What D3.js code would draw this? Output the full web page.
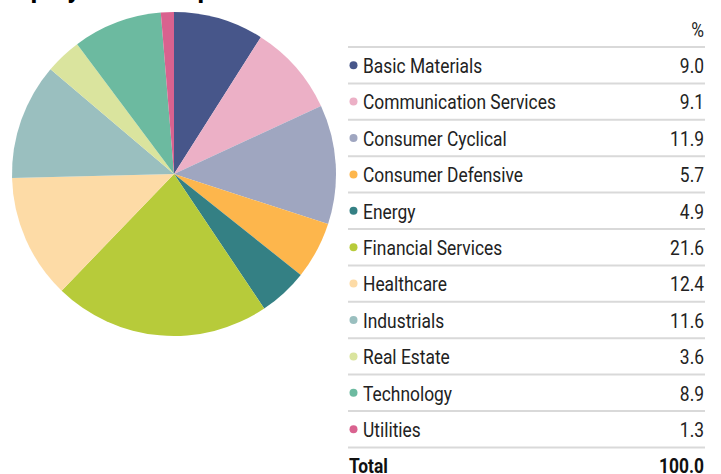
<!DOCTYPE html>
<html>
<head>
<meta charset="utf-8">
<script src="https://cdn.jsdelivr.net/npm/d3@7"></script>
<style>
  html, body { margin: 0; padding: 0; background: #fff; }
  svg { display: block; }
  text { font-family: "Roboto", "Liberation Sans", sans-serif; }
</style>
</head>
<body>
<svg id="chart" width="721" height="474"></svg>
<script>
// Sector breakdown (% of equity holdings)
const sectors = [
  "Basic Materials", "Communication Services", "Consumer Cyclical",
  "Consumer Defensive", "Energy", "Financial Services", "Healthcare",
  "Industrials", "Real Estate", "Technology", "Utilities"
];
const weights = [9.0, 9.1, 11.9, 5.7, 4.9, 21.6, 12.4, 11.6, 3.6, 8.9, 1.3];
const colors = [
  "#47568a", "#ecb0c6", "#9fa6c0", "#fdb64c", "#348084", "#b7cb3a",
  "#fddba6", "#9abfbf", "#dae49e", "#6cbaa0", "#d9628f"
];
const totalLabel = "Total";
const totalValue = "100.0";
const title = "Equity Sector Exposure";

const svg = d3.select("#chart");
const fs = 21;

// Condensed look: measure a reference label and squeeze text horizontally
const probe = svg.append("text").attr("font-size", fs).text("Communication Services");
const squeeze = Math.min(1, 193 / probe.node().getComputedTextLength());
probe.remove();

function label(parent, x, y, str, opts = {}) {
  return parent.append("text")
    .attr("transform", `translate(${x},${y}) scale(${opts.sx || squeeze},1)`)
    .attr("text-anchor", opts.anchor || "start")
    .attr("font-size", opts.size || fs)
    .attr("font-weight", opts.weight || "normal")
    .attr("fill", opts.fill || "#222")
    .text(str);
}

// Title (sits partly above the visible area)
label(svg, 8, -2.5, title, { size: 26, weight: "bold", fill: "#000", sx: 1 });

// Pie
const cx = 174, cy = 174, radius = 162;
const pie = d3.pie().sort(null).value(d => d)(weights);
const arc = d3.arc().innerRadius(0).outerRadius(radius);
const color = d3.scaleOrdinal().domain(sectors).range(colors);

svg.append("g")
  .attr("transform", `translate(${cx},${cy})`)
  .selectAll("path")
  .data(pie)
  .join("path")
  .attr("d", arc)
  .attr("fill", (d, i) => color(sectors[i]));

// Table
const tableLeft = 348, tableRight = 705, tableTop = 47, rowH = 36.4;
const y = d3.scaleLinear().domain([0, 1]).range([tableTop, tableTop + rowH]);
const table = svg.append("g");

label(table, 704, 37, "%", { anchor: "end" });

d3.range(sectors.length + 1).forEach(i => {
  table.append("line")
    .attr("x1", tableLeft).attr("x2", tableRight)
    .attr("y1", y(i)).attr("y2", y(i))
    .attr("stroke", "#d9d9d9").attr("stroke-width", 2);
});

sectors.forEach((s, i) => {
  const yc = y(i + 0.5);
  table.append("circle")
    .attr("cx", 353.5).attr("cy", yc).attr("r", 4)
    .attr("fill", color(s));
  label(table, 363, yc + 7.8, s);
  label(table, 704, yc + 7.8, weights[i].toFixed(1), { anchor: "end" });
});

const ty = y(sectors.length + 0.5) + 7.8;
label(table, 349, ty, totalLabel, { weight: "bold", fill: "#111" });
label(table, 704, ty, totalValue, { anchor: "end", weight: "bold", fill: "#111" });
</script>
</body>
</html>
